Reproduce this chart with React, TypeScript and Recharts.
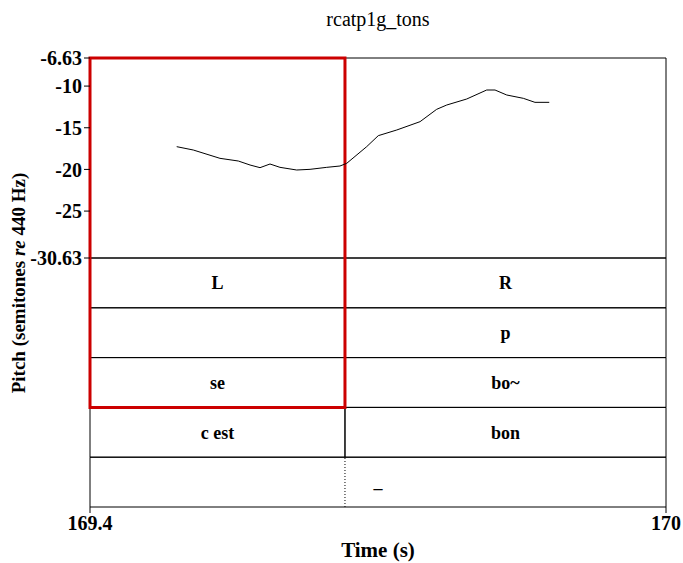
import React from 'react';
import {
  ComposedChart,
  Line,
  XAxis,
  YAxis,
  ReferenceArea,
  ReferenceLine,
  ReferenceDot,
} from 'recharts';

// pitch track (time in s, semitones re 440 Hz)
const times = [
  169.4903, 169.5076, 169.5354, 169.5545, 169.5667, 169.5771, 169.5875, 169.5979,
  169.6153, 169.6292, 169.6466, 169.6604, 169.6674, 169.6882, 169.7003, 169.7195,
  169.7438, 169.7611, 169.7716, 169.7924, 169.8132, 169.8219, 169.8341, 169.8514,
  169.8635, 169.8784,
];
const pitches = [
  -17.27, -17.67, -18.67, -18.99, -19.47, -19.79, -19.35, -19.75,
  -20.07, -19.99, -19.75, -19.59, -19.27, -17.27, -15.95, -15.27,
  -14.27, -12.79, -12.27, -11.55, -10.47, -10.47, -11.07, -11.47,
  -11.95, -11.95,
];

const T_MIN = 169.4;
const T_MAX = 170;
const P_MIN = -30.63;
const P_MAX = -6.63;
const pitchTicks = [-6.63, -10, -15, -20, -25, -30.63];
const timeTicks = [169.4, 170];

const BOUNDARY = 169.6656;
// tiers, top to bottom: [left label, right label]
const tierLabels: [string, string][] = [
  ['L', 'R'],
  ['', 'p'],
  ['se', 'bo~'],
  ['c est', 'bon'],
];
const pointTime = 169.7;
const pointLabel = '_';

// the tiers take 249px under a 200px pitch panel
const TIER_COUNT = 5;
const PITCH_SHARE = 200 / 249;
const TIER_TOP = TIER_COUNT + TIER_COUNT * PITCH_SHARE;
const PITCH_BOTTOM = P_MIN - (P_MAX - P_MIN) / PITCH_SHARE;

const data = times.map((t, i) => ({ t, pitch: pitches[i] }));

const FONT = '"Liberation Serif", "Times New Roman", serif';

const tierText = (value: string) => ({
  value,
  position: 'center' as const,
  fontFamily: FONT,
  fontSize: 18,
  fontWeight: 'bold',
  fill: '#000',
});

export default function App() {
  return (
    <div style={{ position: 'relative', width: 683, height: 563, background: '#fff' }}>
      <style>{'html, body { margin: 0; padding: 0; overflow: hidden; }'}</style>
      <ComposedChart
        width={683}
        height={563}
        data={data}
        margin={{ top: 58, right: 17, bottom: 0, left: 0 }}
      >
        <XAxis
          dataKey="t"
          type="number"
          domain={[T_MIN, T_MAX]}
          ticks={timeTicks}
          interval={0}
          allowDataOverflow
          axisLine={false}
          tickLine={{ stroke: '#000' }}
          tickSize={6}
          tickMargin={3}
          tick={{ fontFamily: FONT, fontSize: 20, fontWeight: 'bold', fill: '#000' }}
          height={56}
          label={{
            value: 'Time (s)',
            position: 'insideBottom',
            offset: 6,
            fontFamily: FONT,
            fontSize: 21,
            fontWeight: 'bold',
            fill: '#000',
          }}
        />
        <YAxis
          yAxisId="pitch"
          type="number"
          domain={[PITCH_BOTTOM, P_MAX]}
          ticks={pitchTicks}
          interval={0}
          allowDataOverflow
          axisLine={false}
          tickLine={{ stroke: '#000' }}
          tickSize={6}
          width={90}
          tick={{ fontFamily: FONT, fontSize: 20, fontWeight: 'bold', fill: '#000' }}
          tickFormatter={(v: number) => String(v)}
        />
        <YAxis yAxisId="tier" type="number" domain={[0, TIER_TOP]} hide allowDataOverflow />

        {/* pitch panel frame */}
        <ReferenceArea
          yAxisId="tier"
          x1={T_MIN}
          x2={T_MAX}
          y1={TIER_COUNT}
          y2={TIER_TOP}
          fill="none"
          stroke="#000"
          strokeWidth={1}
        />

        {/* interval tiers */}
        {tierLabels.map(([left, right], i) => (
          <React.Fragment key={i}>
            <ReferenceArea
              yAxisId="tier"
              x1={T_MIN}
              x2={BOUNDARY}
              y1={TIER_COUNT - i - 1}
              y2={TIER_COUNT - i}
              fill="none"
              stroke="#000"
              strokeWidth={1}
              label={tierText(left)}
            />
            <ReferenceArea
              yAxisId="tier"
              x1={BOUNDARY}
              x2={T_MAX}
              y1={TIER_COUNT - i - 1}
              y2={TIER_COUNT - i}
              fill="none"
              stroke="#000"
              strokeWidth={1}
              label={tierText(right)}
            />
          </React.Fragment>
        ))}

        {/* last tier */}
        <ReferenceArea
          yAxisId="tier"
          x1={T_MIN}
          x2={T_MAX}
          y1={0}
          y2={1}
          fill="none"
          stroke="#000"
          strokeWidth={1}
        />
        <ReferenceLine
          yAxisId="tier"
          segment={[
            { x: BOUNDARY, y: 0 },
            { x: BOUNDARY, y: 1 },
          ]}
          stroke="#000"
          strokeWidth={1}
          strokeDasharray="1 2"
        />
        <ReferenceDot
          yAxisId="tier"
          x={pointTime}
          y={0.5}
          r={0}
          fill="none"
          stroke="none"
          label={tierText(pointLabel)}
        />

        <Line
          yAxisId="pitch"
          dataKey="pitch"
          type="linear"
          stroke="#000"
          strokeWidth={1}
          dot={false}
          isAnimationActive={false}
        />

        {/* highlight box */}
        <ReferenceArea
          yAxisId="tier"
          x1={T_MIN}
          x2={BOUNDARY}
          y1={2}
          y2={TIER_TOP}
          fill="none"
          stroke="#cc0000"
          strokeWidth={3}
        />
      </ComposedChart>

      <div
        style={{
          position: 'absolute',
          top: 8,
          left: 90,
          width: 576,
          textAlign: 'center',
          fontFamily: FONT,
          fontSize: 20,
          lineHeight: '23px',
        }}
      >
        rcatp1g_tons
      </div>
      <div
        style={{
          position: 'absolute',
          left: 19,
          top: 283,
          transform: 'translate(-50%, -50%) rotate(-90deg)',
          whiteSpace: 'nowrap',
          fontFamily: FONT,
          fontSize: 19,
          fontWeight: 'bold',
        }}
      >
        Pitch (semitones <i>re</i> 440 Hz)
      </div>
    </div>
  );
}
